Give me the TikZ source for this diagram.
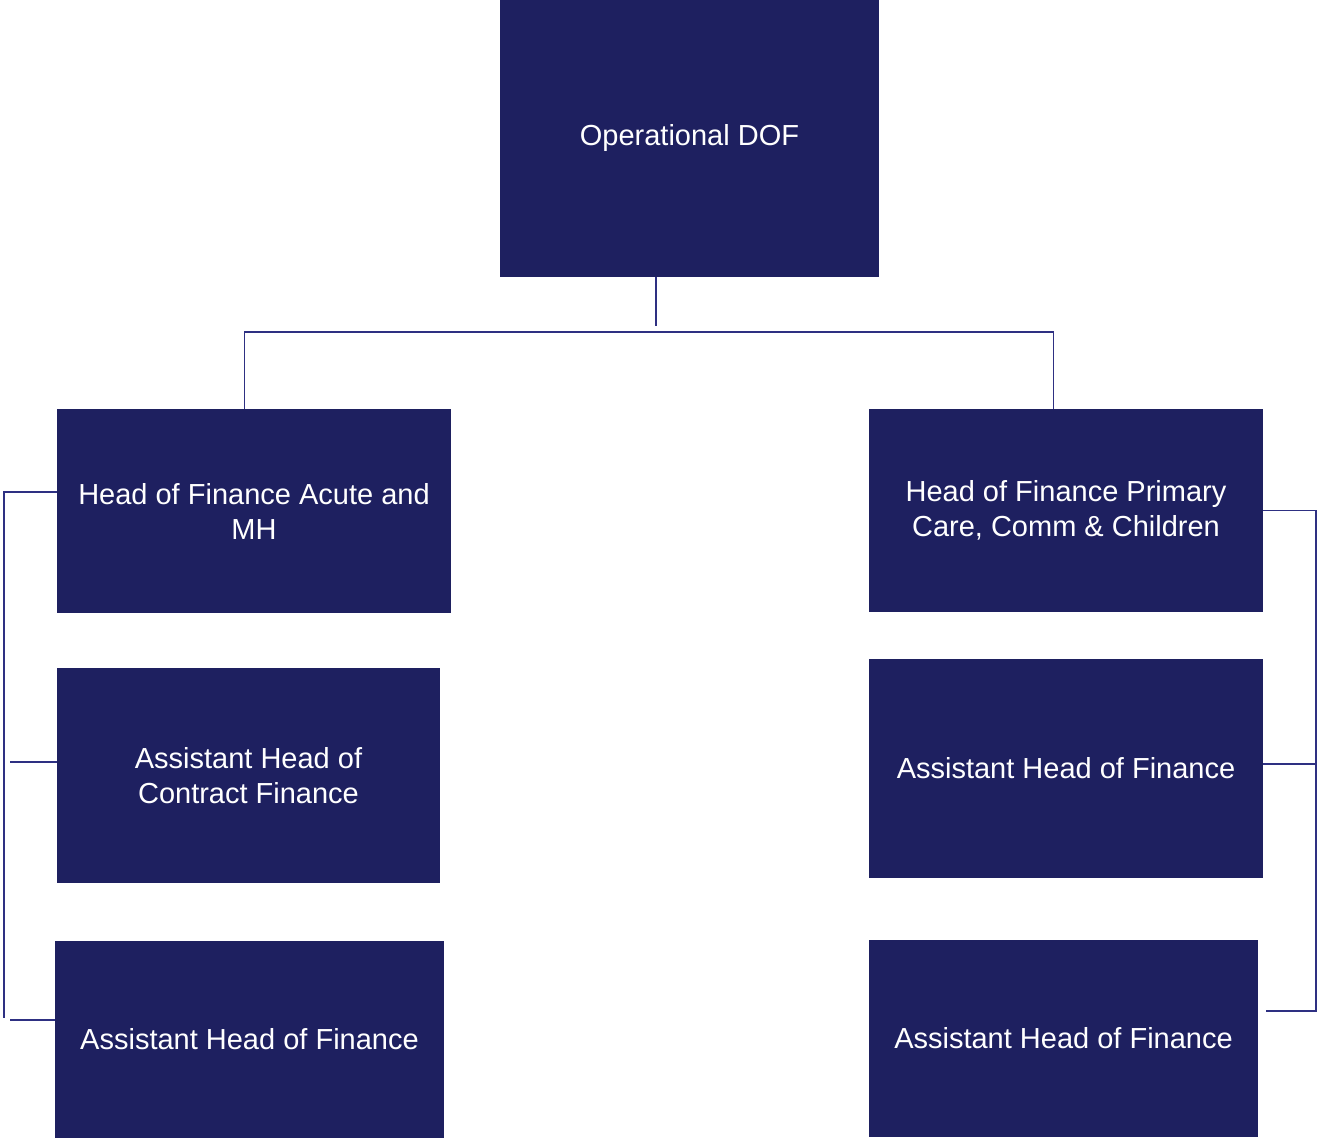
\documentclass[tikz,border=0pt]{standalone}
\usepackage{fontspec}
\setmainfont{Liberation Sans}
\usepackage{xcolor}
\definecolor{navy}{HTML}{1E2060}
\definecolor{linknavy}{HTML}{2E3082}

\begin{document}
\begin{tikzpicture}[x=0.5pt,y=-0.5pt,
    box/.style={fill=navy, text=white, inner sep=0pt, align=center,
        font=\fontsize{14.5pt}{17.5pt}\selectfont},
    link/.style={draw=linknavy, line width=0.8pt}]
    \useasboundingbox (0,0) rectangle (1317,1138);

    % boxes
    \node[box, minimum width=189.5pt, minimum height=138.5pt] (dof) at (689.5,138.5) {Operational DOF};
    \node[box, minimum width=197pt, minimum height=102pt] (acute) at (254,511) {Head of Finance Acute and\\MH};
    \node[box, minimum width=191.5pt, minimum height=107.5pt] (contract) at (248.5,775.5) {Assistant Head of\\Contract Finance};
    \node[box, minimum width=194.5pt, minimum height=98.5pt] (ahfleft) at (249.5,1039.5) {Assistant Head of Finance};
    \node[box, minimum width=197pt, minimum height=101.5pt] (primary) at (1066,510.5) {Head of Finance Primary\\Care, Comm \& Children};
    \node[box, minimum width=197pt, minimum height=109.5pt] (ahfright) at (1066,768.5) {Assistant Head of Finance};
    \node[box, minimum width=194.5pt, minimum height=98.5pt] (ahfbottom) at (1063.5,1038.5) {Assistant Head of Finance};

    % top level
    \draw[link] ([xshift=-16.75pt]dof.south) -- ++(0,49);
    \draw[link] ([xshift=94pt]acute.north west) |- (656,332) -| ([xshift=92.5pt]primary.north west);

    % left branch
    \draw[link] ([yshift=9.5pt]acute.west) -| (4,1018);
    \draw[link] ([yshift=6.75pt]contract.west) -- (10,762);
    \draw[link] ([yshift=9.75pt]ahfleft.west) -- (10,1020);

    % right branch
    \draw[link] (primary.east) -| (1316,1011) -- (1266,1011);
    \draw[link] ([yshift=2.25pt]ahfright.east) -- (1315,764);
\end{tikzpicture}
\end{document}
